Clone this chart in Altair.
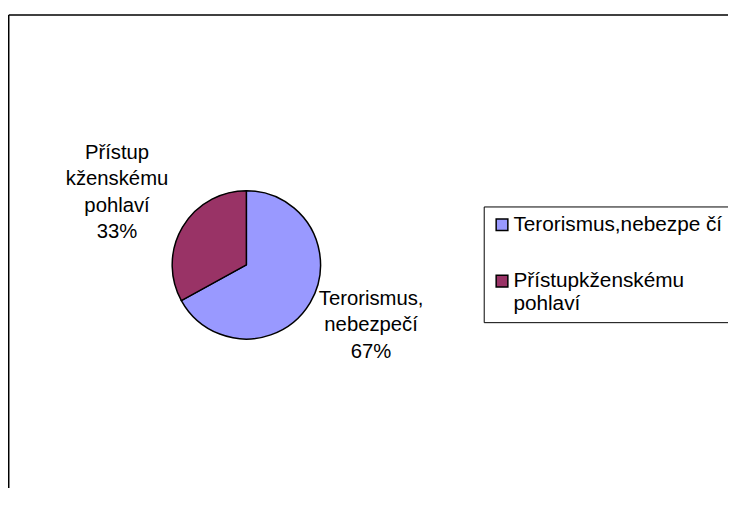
import altair as alt
import pandas as pd

# ---- data ----
categories = ["Terorismus,nebezpe čí", "Přístupkženskému|pohlaví"]   # legend entries ("|" = line break)
values = [67, 33]
pie_labels = ["Terorismus,\nnebezpečí\n67%", "Přístup\nkženskému\npohlaví\n33%"]
slice_order = [0, 1]
colors = ["#9999FF", "#993366"]

df = pd.DataFrame({"cat": categories, "value": values, "label": pie_labels, "ord": slice_order})

W, H = 728, 480
CX, CY = 241, 257
FONT = "Liberation Sans"
FS = 20.5
LH = 26.5
total = sum(values)
theta_scale = alt.Scale(domain=[0, total])

pie = alt.Chart(df).mark_arc(outerRadius=75, stroke="black", strokeWidth=1.5).encode(
    theta=alt.Theta("value:Q", stack=True, scale=theta_scale),
    order=alt.Order("ord:Q"),
    color=alt.Color(
        "cat:N",
        scale=alt.Scale(domain=categories, range=colors),
        legend=alt.Legend(
            title=None, orient="none", legendX=481, legendY=198,
            symbolType="square", symbolSize=140, symbolStrokeColor="black",
            symbolStrokeWidth=1.5, symbolOpacity=1,
            labelFont=FONT, labelFontSize=21, labelColor="black", labelLimit=400,
            labelOffset=1,
            labelExpr="split(datum.label, '|')",
            strokeColor="black", padding=8, rowPadding=35,
        ),
    ),
    x=alt.value(CX), y=alt.value(CY),
)

text_base = alt.Chart(df).transform_window(
    cum="sum(value)", sort=[alt.SortField("ord")], frame=[None, 0]
).transform_calculate(mid="datum.cum - datum.value / 2")

def label_layer(idx, r, dx, dy):
    return text_base.transform_filter(alt.datum.ord == idx).mark_text(
        radius=r, dx=dx, dy=dy, font=FONT, fontSize=FS, lineBreak="\n",
        lineHeight=LH, color="black", align="center",
    ).encode(
        theta=alt.Theta("mid:Q", scale=theta_scale),
        text="label:N",
        x=alt.value(CX), y=alt.value(CY),
    )

lab0 = label_layer(0, 139, 6.5, -36)
lab1 = label_layer(1, 149, -2.5, -37)

frame_df = pd.DataFrame({"f": [0]})
frame_top = alt.Chart(frame_df).mark_rule(color="black", strokeWidth=1.5).encode(
    x=alt.value(0.75), x2=alt.value(W + 30), y=alt.value(4.5))
frame_left = alt.Chart(frame_df).mark_rule(color="black", strokeWidth=1.5).encode(
    x=alt.value(0.75), y=alt.value(4.5), y2=alt.value(H + 30))

chart = alt.layer(frame_top, frame_left, pie, lab0, lab1).properties(
    width=W, height=H, padding=0, autosize=alt.AutoSizeParams(type="none"),
    background="white",
).configure_view(strokeWidth=0)

chart.save("out.html", embed_options={"renderer": "svg", "actions": False})
